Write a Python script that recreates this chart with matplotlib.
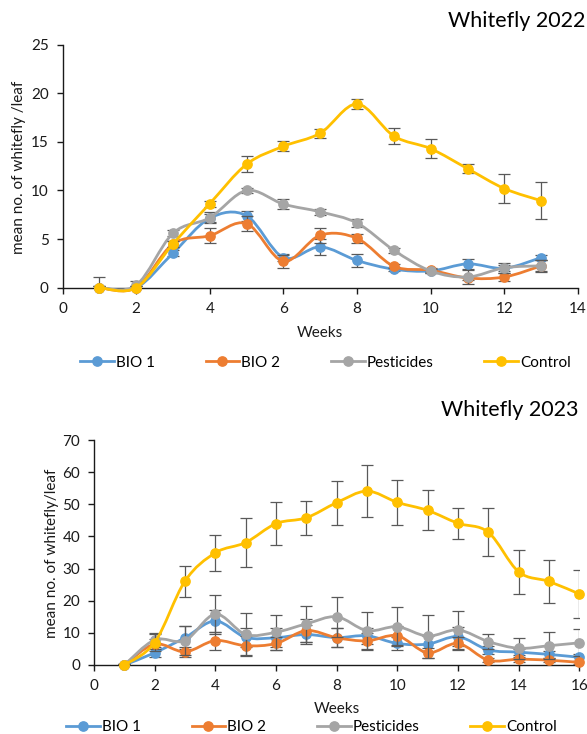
import numpy as np
import matplotlib
matplotlib.use("Agg")
import matplotlib.pyplot as plt
from matplotlib.path import Path
from matplotlib.patches import PathPatch
from matplotlib.lines import Line2D

plt.rcParams["font.family"] = ["Lato", "DejaVu Sans"]

series_names = ["BIO 1", "BIO 2", "Pesticides", "Control"]
series_colors = ["#5B9BD5", "#ED7D31", "#A5A5A5", "#FFC000"]

# season 2022, weeks 1-13
weeks_2022 = [1, 2, 3, 4, 5, 6, 7, 8, 9, 10, 11, 12, 13]
bio1_2022 = [0, 0, 3.55, 7.15, 7.4, 3.1, 4.2, 2.8, 1.9, 1.72, 2.45, 2.0, 3.1]
bio1_2022_err = [0.2, 0.2, 0.3, 0.4, 0.5, 0.4, 0.8, 0.65, 0.2, 0.2, 0.5, 0.3, 0.3]
bio2_2022 = [0, 0, 4.5, 5.35, 6.6, 2.72, 5.4, 5.07, 2.2, 1.8, 1.0, 1.1, 2.25]
bio2_2022_err = [0.2, 0.2, 0.3, 0.8, 0.8, 0.65, 0.75, 0.5, 0.2, 0.2, 0.2, 0.4, 0.55]
pest_2022 = [0, 0.25, 5.6, 7.2, 10.0, 8.6, 7.8, 6.65, 3.85, 1.72, 1.1, 2.05, 2.25]
pest_2022_err = [0.2, 0.45, 0.3, 0.55, 0.3, 0.5, 0.3, 0.45, 0.25, 0.25, 0.75, 0.5, 0.6]
ctrl_2022 = [0, 0, 4.5, 8.65, 12.7, 14.55, 15.9, 18.9, 15.6, 14.3, 12.25, 10.2, 8.95]
ctrl_2022_err = [1.05, 0.2, 0.3, 0.3, 0.83, 0.5, 0.45, 0.55, 0.8, 1.0, 0.47, 1.48, 1.9]

# season 2023, weeks 1-16
weeks_2023 = [1, 2, 3, 4, 5, 6, 7, 8, 9, 10, 11, 12, 13, 14, 15, 16]
bio1_2023 = [0, 3.8, 8.5, 13.7, 8.6, 8.5, 9.5, 8.5, 9.1, 6.7, 6.5, 8.8, 4.7, 4.0, 3.3, 2.4]
bio1_2023_err = [0.3, 1.2, 3.5, 3.5, 3.0, 3.0, 3.0, 3.0, 2.5, 2.0, 2.5, 3.0, 1.2, 1.0, 1.0, 1.0]
bio2_2023 = [0, 6.5, 4.1, 7.6, 6.0, 6.7, 10.7, 8.5, 7.5, 9.1, 3.8, 6.7, 1.5, 1.8, 1.5, 0.8]
bio2_2023_err = [0.3, 1.5, 1.5, 2.8, 3.0, 2.1, 3.5, 3.0, 2.5, 3.0, 1.5, 2.1, 0.7, 0.8, 0.7, 0.5]
pest_2023 = [0, 7.8, 7.6, 15.8, 9.5, 10.2, 12.8, 15.0, 10.7, 11.9, 9.0, 10.9, 7.3, 5.2, 6.0, 6.9]
pest_2023_err = [0.3, 2.3, 4.5, 6.0, 6.6, 5.5, 5.7, 6.3, 5.9, 6.0, 6.7, 5.8, 2.4, 3.3, 4.2, 4.2]
ctrl_2023 = [0, 7.0, 26.1, 34.9, 38.1, 44.0, 45.8, 50.5, 54.1, 50.6, 48.1, 44.1, 41.3, 29.0, 26.0, 22.1]
ctrl_2023_err = [0.3, 2.5, 4.8, 5.6, 7.6, 6.8, 5.2, 6.8, 8.1, 6.9, 6.2, 4.8, 7.4, 6.8, 6.6, 7.5]

AXIS_COLOR = "#1a1a1a"
ERR_COLOR = "#595959"
FS = 11


def smooth_path(x, y, t=1 / 6):
    # Catmull-Rom style bezier through the points (like a "smoothed line" in a spreadsheet)
    pts = np.column_stack([x, y]).astype(float)
    n = len(pts)
    verts = [pts[0]]
    codes = [Path.MOVETO]
    for i in range(n - 1):
        p0 = pts[max(i - 1, 0)]
        p1 = pts[i]
        p2 = pts[i + 1]
        p3 = pts[min(i + 2, n - 1)]
        verts += [p1 + (p2 - p0) * t, p2 - (p3 - p1) * t, p2]
        codes += [Path.CURVE4] * 3
    return Path(verts, codes)


def draw_panel(ax, weeks, values, errors, xmax, ymax, ystep):
    for i, (color, y, e) in enumerate(zip(series_colors, values, errors)):
        z = 3 + 3 * i
        ax.errorbar(weeks, y, yerr=e, fmt="none", ecolor=ERR_COLOR,
                    elinewidth=0.9, capsize=4.5, capthick=0.9, zorder=z)
        ax.add_patch(PathPatch(smooth_path(weeks, y), facecolor="none",
                               edgecolor=color, lw=2.0, capstyle="round",
                               joinstyle="round", zorder=z + 1, clip_on=False))
        ax.plot(weeks, y, "o", color=color, ms=6.7, clip_on=False, zorder=z + 2)

    ax.set_xlim(0, xmax)
    ax.set_ylim(0, ymax)
    ax.set_xticks(np.arange(0, xmax + 1, 2))
    ax.set_yticks(np.arange(0, ymax + 1, ystep))
    for side in ["top", "right"]:
        ax.spines[side].set_visible(False)
    for side in ["left", "bottom"]:
        ax.spines[side].set_color(AXIS_COLOR)
        ax.spines[side].set_linewidth(1.0)
    ax.tick_params(direction="out", length=4, width=1, color=AXIS_COLOR,
                   labelsize=FS, labelcolor=AXIS_COLOR, pad=6)


def set_labels(ax, ylabel, xlab_y, ylab_x):
    ax.set_xlabel("Weeks", fontsize=FS, color=AXIS_COLOR)
    ax.xaxis.label.set_va("center")
    ax.xaxis.set_label_coords(0.5, xlab_y)
    ax.set_ylabel(ylabel, fontsize=FS, color=AXIS_COLOR)
    ax.yaxis.label.set_va("center")
    ax.yaxis.set_label_coords(ylab_x, 0.497)


def add_legend(fig, cx, cy):
    handles = [Line2D([], [], color=c, lw=2.0, marker="o", ms=6.7) for c in series_colors]
    fig.legend(handles, series_names, loc="center", bbox_to_anchor=(cx / 587, 1 - cy / 734),
               ncol=4, frameon=False, fontsize=FS, handlelength=2.2,
               handletextpad=0.15, columnspacing=3.3, borderaxespad=0, borderpad=0)


fig = plt.figure(figsize=(5.87, 7.34), dpi=100)

# top panel: 2022
ax1 = fig.add_axes([62.5 / 587, 1 - 287.7 / 734, (578 - 62.5) / 587, 243 / 734])
draw_panel(ax1, weeks_2022,
           [bio1_2022, bio2_2022, pest_2022, ctrl_2022],
           [bio1_2022_err, bio2_2022_err, pest_2022_err, ctrl_2022_err],
           14, 25, 5)
set_labels(ax1, "mean no. of whitefly /leaf", -0.186, -0.084)
fig.text(517 / 587, 1 - 21 / 734, "Whitefly 2022", ha="center", va="center", fontsize=15.5)
add_legend(fig, 325.5, 362.7)

# bottom panel: 2023
ax2 = fig.add_axes([94 / 587, 1 - 665 / 734, (579.3 - 94) / 587, 225 / 734])
draw_panel(ax2, weeks_2023,
           [bio1_2023, bio2_2023, pest_2023, ctrl_2023],
           [bio1_2023_err, bio2_2023_err, pest_2023_err, ctrl_2023_err],
           16, 70, 10)
set_labels(ax2, "mean no. of whitefly/leaf", -0.196, -0.0865)
fig.text(510 / 587, 1 - 410 / 734, "Whitefly 2023", ha="center", va="center", fontsize=15.5)
add_legend(fig, 311.5, 727)

fig.savefig("out.png", dpi=100)
